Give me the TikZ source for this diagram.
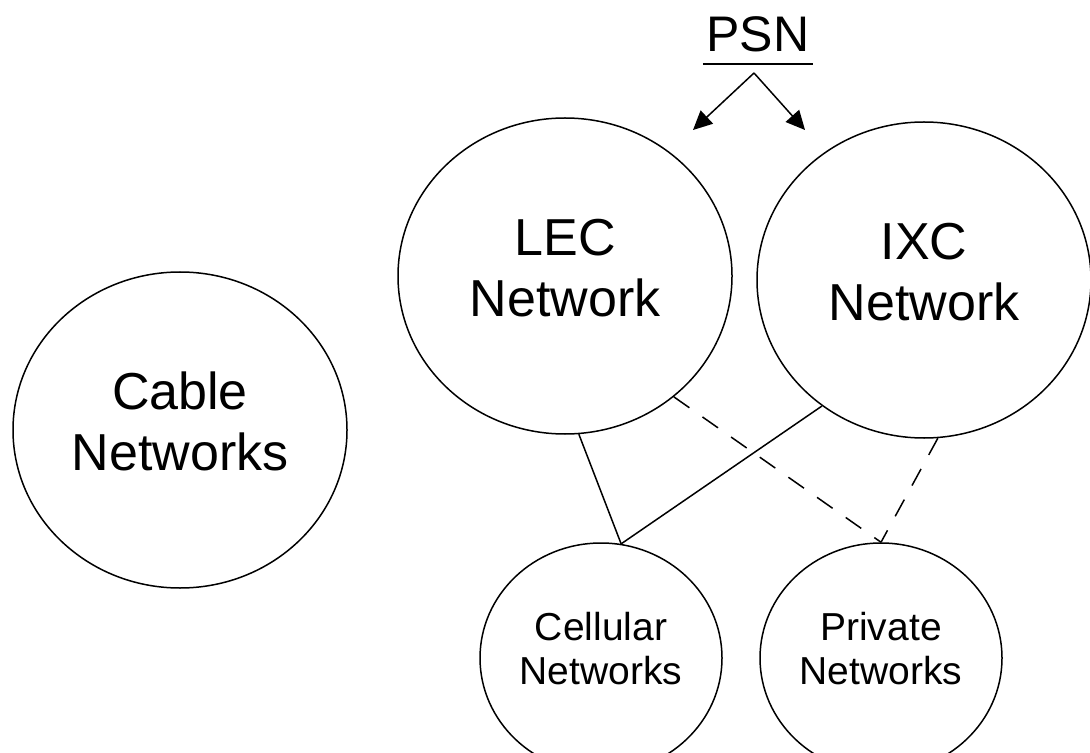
\documentclass[tikz,border=0pt]{standalone}
\usepackage{fontspec}
\setmainfont{Liberation Sans}
\usetikzlibrary{shapes.geometric,arrows.meta}

\begin{document}
\begin{tikzpicture}[x=0.5pt,y=-0.5pt,line width=0.75pt,
    big/.style={draw,ellipse,inner sep=0pt,minimum width=167pt,minimum height=158pt,
      align=center,text depth=8.5pt,font=\fontsize{26}{30.5}\selectfont},
    small/.style={draw,ellipse,inner sep=0pt,minimum width=121pt,minimum height=115pt,
      align=center,text depth=10pt,font=\fontsize{19.5}{22}\selectfont},
    dlink/.style={dash pattern=on 9.5pt off 8pt},
    feed/.style={-{Triangle[length=9.5pt,width=9pt]}}]
  \useasboundingbox (0,0) rectangle (1090,753);
  \node[big] (cable) at (180,430) {Cable\\Networks};
  \node[big] (lec) at (565,276) {LEC\\Network};
  \node[big] (ixc) at (924,280) {IXC\\Network};
  \node[small] (cell) at (601,658) {Cellular\\Networks};
  \node[small] (priv) at (881,658) {Private\\Networks};
  \node[font=\fontsize{25}{30}\selectfont,inner xsep=1.5pt,inner ysep=5.5pt,anchor=base]
    (psn) at (758,52) {PSN};
  \draw (psn.south west) -- (psn.south east);
  \coordinate (fork) at (754,73);
  \coordinate (lecin) at (693,130);
  \coordinate (ixcin) at (805,130);
  \draw[feed] (fork) -- (lecin);
  \draw[feed] (fork) -- (ixcin);
  \draw (lec.-85) -- (cell.80);
  \draw (ixc.231) -- (cell.80);
  \draw[dlink] (lec.-48) -- (priv.north);
  \draw[dlink] (ixc.-85) -- (priv.north);
\end{tikzpicture}
\end{document}
